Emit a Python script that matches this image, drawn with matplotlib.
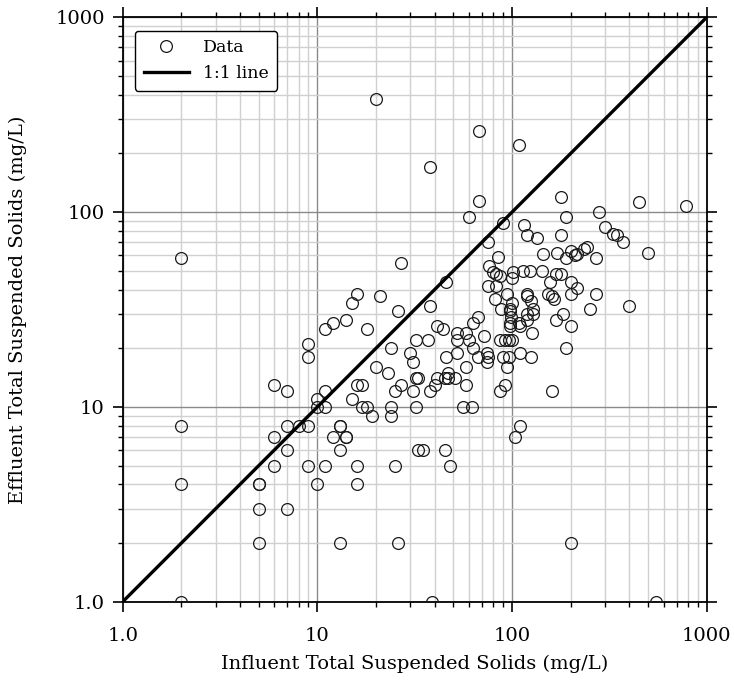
import matplotlib
matplotlib.use("Agg")
import matplotlib.pyplot as plt
from matplotlib.ticker import FixedLocator, FixedFormatter, LogLocator, NullFormatter

influent = [2, 2, 2, 2,
    6, 7, 8, 9, 7, 6, 9, 11, 10, 5, 5, 5, 7, 5, 13,
    10, 11, 10, 11,
    13, 13, 12, 14, 14, 13,
    16, 25, 16, 26, 39, 33, 35, 45, 48, 110, 103, 200, 550,
    6, 7, 9, 9,
    20, 68, 38, 109, 68, 178, 450, 780, 280, 60, 190, 90, 115, 120, 135, 178, 300, 330, 345, 370,
    500, 145, 170, 190, 200, 210, 215, 235, 242, 270, 85, 101, 100, 114, 124, 142, 169, 178, 157,
    200, 215, 153, 160, 165, 200, 270, 94, 100, 120, 120, 125, 128, 98, 98, 119, 128, 98, 98, 110,
    120, 126, 169, 183, 200, 250, 400, 190, 92, 96, 100, 87, 90, 96, 94, 110, 125, 92, 87, 160,
    75, 76, 80, 83, 87, 75, 83, 82, 88, 99, 108, 67, 63, 41, 44, 38, 46, 27, 21, 16, 15, 26, 18,
    14, 12, 11, 24, 20, 23, 16, 17, 15, 17, 18, 19, 24, 24, 32, 32, 37, 30, 31, 32, 33, 27, 25,
    31, 38, 41, 40, 46, 47, 47, 45, 51, 52, 52, 52, 58, 58, 58, 60, 63, 67, 74, 75, 74, 72, 56, 62]

effluent = [8, 4, 1, 58,
    7, 8, 8, 8, 6, 5, 5, 5, 4, 4, 4, 3, 3, 2, 2,
    10, 10, 11, 12,
    8, 8, 7, 7, 7, 6,
    5, 5, 4, 2, 1, 6, 6, 6, 5, 8, 7, 2, 1,
    13, 12, 21, 18,
    380, 260, 170, 220, 114, 120, 113, 108, 100, 94, 94, 88, 86, 76, 74, 76, 84, 77, 76, 70,
    62, 61, 62, 58, 63, 60, 61, 65, 66, 58, 59, 49, 46, 50, 50, 50, 48, 48, 44,
    44, 41, 38, 37, 36, 38, 38, 38, 34, 38, 37, 35, 32, 32, 31, 30, 30, 27, 26, 26,
    28, 24, 28, 30, 26, 32, 33, 20, 22, 22, 22, 22, 18, 18, 16, 19, 18, 13, 12, 12,
    70, 53, 49, 48, 47, 42, 42, 36, 32, 29, 27, 29, 27, 26, 25, 33, 44, 55, 37, 38, 34, 31, 25,
    28, 27, 25, 20, 16, 15, 13, 13, 11, 10, 10, 9, 10, 9, 10, 22, 22, 19, 17, 14, 14, 13, 12,
    12, 12, 14, 13, 18, 15, 14, 14, 14, 19, 24, 22, 16, 13, 24, 22, 20, 18, 19, 18, 17, 23, 10, 10]

line_vals = [1, 1000]
tick_vals = [1, 10, 100, 1000]
tick_labels = ["1.0", "10", "100", "1000"]

plt.rcParams['font.family'] = ['DejaVu Serif']

fig = plt.figure(figsize=(7.34, 6.81), dpi=100)
ax = fig.add_axes([0.1672, 0.1164, 0.7956, 0.8582])

ax.set_xscale('log')
ax.set_yscale('log')
ax.set_xlim(1, 1000)
ax.set_ylim(1, 1000)

ax.grid(True, which='minor', color='#d0d0d0', linewidth=1.0, zorder=0)
ax.grid(True, which='major', color='#8a8a8a', linewidth=1.0, zorder=0)
ax.set_axisbelow(True)

ax.plot(influent, effluent, linestyle='none', marker='o', markersize=8.5,
        markerfacecolor='none', markeredgecolor='#1a1a1a', markeredgewidth=0.9,
        label='Data', zorder=3, clip_on=True)
ax.plot(line_vals, line_vals, color='black', linewidth=2.4, label='1:1 line', zorder=4)

for axis in (ax.xaxis, ax.yaxis):
    axis.set_major_locator(FixedLocator(tick_vals))
    axis.set_major_formatter(FixedFormatter(tick_labels))
    axis.set_minor_locator(LogLocator(base=10, subs=range(2, 10)))
    axis.set_minor_formatter(NullFormatter())

ax.tick_params(which='both', direction='out', top=True, right=True,
               labelsize=14, colors='black')
ax.tick_params(which='major', length=7, width=1.2, pad=6)
ax.tick_params(axis='x', which='major', pad=11)
ax.tick_params(which='minor', length=3.5, width=1.0)
for s in ax.spines.values():
    s.set_linewidth(1.3)
    s.set_color('black')

ax.set_xlabel('Influent Total Suspended Solids (mg/L)', fontsize=14, labelpad=7)
ax.set_ylabel('Effluent Total Suspended Solids (mg/L)', fontsize=14, labelpad=20)

leg = ax.legend(loc='upper left', fontsize=12.5, frameon=True, fancybox=True,
                edgecolor='black', framealpha=1, borderpad=0.5, handlelength=2.6,
                bbox_to_anchor=(0.006, 0.992))
leg.get_frame().set_linewidth(1.0)

fig.savefig('out.png', dpi=100)
